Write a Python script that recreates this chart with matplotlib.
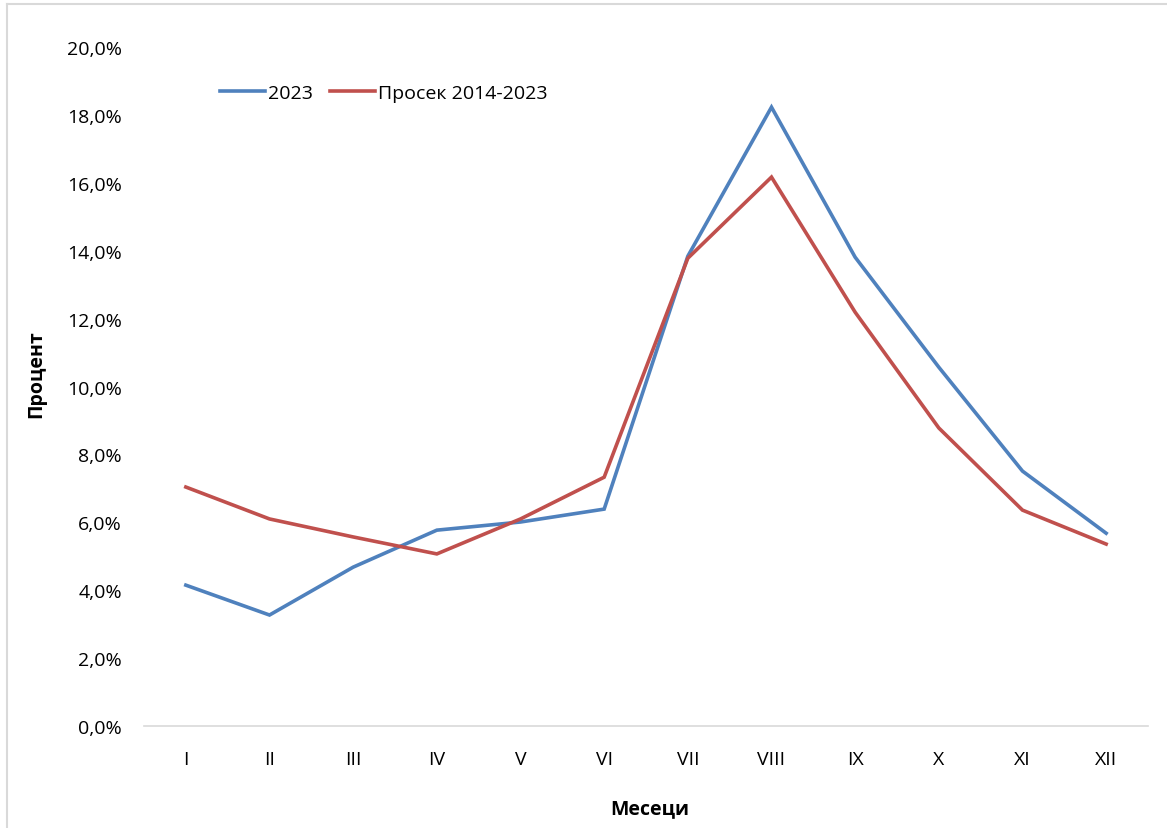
import matplotlib
matplotlib.use("Agg")
import matplotlib.pyplot as plt
from matplotlib.ticker import FuncFormatter
from matplotlib.lines import Line2D

months = ["I", "II", "III", "IV", "V", "VI", "VII", "VIII", "IX", "X", "XI", "XII"]
series_2023 = [4.15, 3.27, 4.68, 5.77, 6.01, 6.39, 13.84, 18.23, 13.81, 10.57, 7.51, 5.68]
series_avg = [7.04, 6.10, 5.57, 5.07, 6.10, 7.33, 13.78, 16.17, 12.19, 8.78, 6.36, 5.36]
labels = ["2023", "Просек 2014-2023"]
colors = ["#4F81BD", "#C0504D"]

plt.rcParams['font.family'] = ['Open Sans', 'DejaVu Sans']

fig = plt.figure(figsize=(11.67, 8.29), dpi=100)
ax = fig.add_axes([0.1234, 0.123, 0.8603, 0.819])

x = list(range(len(months)))
ax.plot(x, series_2023, color=colors[0], lw=2.6, label=labels[0], solid_joinstyle='miter')
ax.plot(x, series_avg, color=colors[1], lw=2.6, label=labels[1], solid_joinstyle='miter')

ax.set_xlim(-0.5, 11.5)
ax.set_ylim(0, 20)
ax.set_yticks([0, 2, 4, 6, 8, 10, 12, 14, 16, 18, 20])
ax.yaxis.set_major_formatter(FuncFormatter(lambda v, p: f"{v:.1f}%".replace(".", ",")))
ax.set_xticks(x)
ax.set_xticklabels(months)
ax.tick_params(axis='both', length=0, labelsize=14, colors='#000000')
ax.tick_params(axis='x', pad=17)
ax.tick_params(axis='y', pad=16)

for s in ['top', 'right', 'left']:
    ax.spines[s].set_visible(False)
ax.spines['bottom'].set_color('#D9D9D9')
ax.spines['bottom'].set_linewidth(1.2)

ax.set_ylabel("Процент", fontsize=14, fontweight='bold')
ax.yaxis.set_label_coords(-0.097, 0.52)
fig.text(0.557, 0.024, "Месеци", fontsize=14, fontweight='bold', ha='center', va='center')

leg = ax.legend(loc='center left', bbox_to_anchor=(0.076, 0.933), ncol=2, frameon=False,
                fontsize=14, handlelength=2.3, handletextpad=0.15, columnspacing=0.9,
                borderaxespad=0, borderpad=0)

# chart area border (partial, top and left)
fig.add_artist(Line2D([0.006, 0.006], [0.0, 0.994], transform=fig.transFigure, color='#D9D9D9', lw=1.5))
fig.add_artist(Line2D([0.006, 1.0], [0.994, 0.994], transform=fig.transFigure, color='#D9D9D9', lw=1.5))

fig.savefig("out.png", dpi=100)
